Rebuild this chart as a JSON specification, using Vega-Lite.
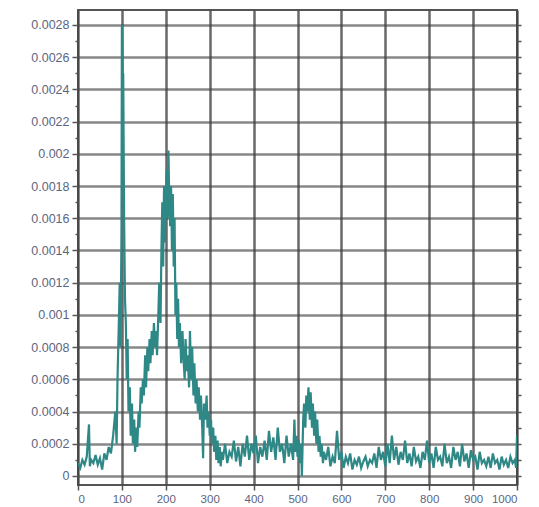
{
  "$schema": "https://vega.github.io/schema/vega-lite/v6.json",
  "autosize": "none",
  "width": 439,
  "height": 475,
  "padding": {"left": 78, "top": 10, "right": 22, "bottom": 22},
  "background": "white",
  "config": {
    "view": {"stroke": "#555555", "strokeWidth": 2},
    "axis": {
      "labelFont": "Liberation Sans",
      "labelColor": "#5c6580",
      "domain": false,
      "gridColor": "#444444",
      "gridOpacity": 0.8,
      "gridWidth": 2.5,
      "tickColor": "#555555",
      "tickWidth": 1.5,
      "title": null
    }
  },
  "data": {"values": [
    {"x":0,"y":0.00008},{"x":5,"y":0.00005},{"x":10,"y":0.0001},{"x":15,"y":0.00007},{"x":20,"y":0.00012},{"x":25,"y":0.00032},{"x":27,"y":0.00006},{"x":30,"y":0.0001},{"x":35,"y":0.00008},{"x":40,"y":0.00013},{"x":45,"y":0.00007},{"x":50,"y":0.00011},{"x":55,"y":0.00004},{"x":60,"y":0.00014},{"x":65,"y":0.0001},{"x":70,"y":0.00018},{"x":75,"y":0.00014},{"x":80,"y":0.00025},{"x":85,"y":0.0004},{"x":88,"y":0.0002},{"x":90,"y":0.0006},{"x":93,"y":0.00095},{"x":95,"y":0.0012},{"x":97,"y":0.0008},{"x":99,"y":0.0015},{"x":100,"y":0.0028},{"x":101,"y":0.0027},{"x":102,"y":0.00245},{"x":103,"y":0.0025},{"x":105,"y":0.0016},{"x":107,"y":0.0011},{"x":109,"y":0.00095},{"x":111,"y":0.0006},{"x":113,"y":0.00085},{"x":115,"y":0.0004},{"x":118,"y":0.00055},{"x":120,"y":0.00025},{"x":123,"y":0.00045},{"x":125,"y":0.0002},{"x":128,"y":0.00035},{"x":130,"y":0.00015},{"x":133,"y":0.0003},{"x":135,"y":0.00018},{"x":138,"y":0.0004},{"x":140,"y":0.0003},{"x":143,"y":0.00055},{"x":145,"y":0.00045},{"x":148,"y":0.0006},{"x":150,"y":0.0005},{"x":153,"y":0.00075},{"x":155,"y":0.00055},{"x":158,"y":0.0008},{"x":160,"y":0.00065},{"x":163,"y":0.00085},{"x":165,"y":0.0007},{"x":168,"y":0.0009},{"x":170,"y":0.00075},{"x":173,"y":0.00095},{"x":175,"y":0.0008},{"x":178,"y":0.0009},{"x":180,"y":0.00075},{"x":183,"y":0.001},{"x":185,"y":0.0012},{"x":188,"y":0.00095},{"x":190,"y":0.0014},{"x":192,"y":0.0017},{"x":194,"y":0.0013},{"x":196,"y":0.0018},{"x":198,"y":0.00145},{"x":200,"y":0.00175},{"x":202,"y":0.0019},{"x":204,"y":0.0016},{"x":206,"y":0.00202},{"x":208,"y":0.0017},{"x":210,"y":0.00155},{"x":212,"y":0.0018},{"x":214,"y":0.0014},{"x":216,"y":0.00175},{"x":218,"y":0.0013},{"x":220,"y":0.0016},{"x":222,"y":0.001},{"x":224,"y":0.0012},{"x":226,"y":0.00085},{"x":228,"y":0.0011},{"x":230,"y":0.0008},{"x":232,"y":0.00095},{"x":235,"y":0.0007},{"x":238,"y":0.0009},{"x":240,"y":0.00075},{"x":243,"y":0.0006},{"x":245,"y":0.00085},{"x":248,"y":0.00065},{"x":250,"y":0.00075},{"x":253,"y":0.00055},{"x":255,"y":0.0009},{"x":258,"y":0.0006},{"x":260,"y":0.0008},{"x":263,"y":0.0005},{"x":265,"y":0.0007},{"x":268,"y":0.00045},{"x":270,"y":0.0006},{"x":273,"y":0.0004},{"x":275,"y":0.00055},{"x":278,"y":0.00035},{"x":280,"y":0.0005},{"x":283,"y":0.0003},{"x":285,"y":0.00011},{"x":287,"y":0.00045},{"x":290,"y":0.00035},{"x":293,"y":0.0005},{"x":295,"y":0.0003},{"x":298,"y":0.0004},{"x":300,"y":0.00025},{"x":303,"y":0.00035},{"x":305,"y":0.0002},{"x":308,"y":0.0003},{"x":310,"y":0.00015},{"x":313,"y":0.00025},{"x":315,"y":0.0001},{"x":318,"y":0.00022},{"x":320,"y":0.00008},{"x":323,"y":0.00018},{"x":325,"y":0.00006},{"x":328,"y":0.00015},{"x":330,"y":0.0001},{"x":335,"y":0.0002},{"x":340,"y":0.00008},{"x":345,"y":0.00015},{"x":350,"y":0.00012},{"x":355,"y":0.00022},{"x":360,"y":0.00009},{"x":365,"y":0.00018},{"x":370,"y":0.00006},{"x":375,"y":0.0002},{"x":380,"y":0.00012},{"x":385,"y":0.00025},{"x":390,"y":0.0001},{"x":395,"y":0.0002},{"x":400,"y":0.00014},{"x":405,"y":0.00025},{"x":410,"y":0.00008},{"x":415,"y":0.00018},{"x":420,"y":0.00012},{"x":425,"y":0.00022},{"x":430,"y":0.0001},{"x":435,"y":0.00028},{"x":440,"y":0.00015},{"x":445,"y":0.00024},{"x":450,"y":0.0001},{"x":455,"y":0.0003},{"x":460,"y":0.00015},{"x":465,"y":0.0002},{"x":470,"y":0.00008},{"x":475,"y":0.00025},{"x":480,"y":0.00012},{"x":485,"y":0.0002},{"x":490,"y":0.0001},{"x":493,"y":0.00035},{"x":495,"y":0.00015},{"x":498,"y":0.00025},{"x":500,"y":0.00012},{"x":503,"y":0.00022},{"x":505,"y":0.00008},{"x":508,"y":0.0002},{"x":510,"y":0.0},{"x":513,"y":0.00035},{"x":515,"y":0.00045},{"x":518,"y":0.0003},{"x":520,"y":0.0005},{"x":522,"y":0.0004},{"x":525,"y":0.00055},{"x":528,"y":0.00035},{"x":530,"y":0.00052},{"x":533,"y":0.0003},{"x":535,"y":0.00045},{"x":538,"y":0.00025},{"x":540,"y":0.0004},{"x":543,"y":0.0002},{"x":545,"y":0.00035},{"x":548,"y":0.00015},{"x":550,"y":0.00025},{"x":553,"y":0.00012},{"x":555,"y":0.0002},{"x":558,"y":0.00008},{"x":560,"y":0.00015},{"x":565,"y":0.0001},{"x":570,"y":0.00018},{"x":575,"y":0.00006},{"x":580,"y":0.00012},{"x":585,"y":0.00008},{"x":590,"y":0.00028},{"x":595,"y":0.0001},{"x":600,"y":0.00015},{"x":605,"y":0.00005},{"x":610,"y":0.00012},{"x":615,"y":0.00008},{"x":620,"y":0.00014},{"x":625,"y":0.00004},{"x":630,"y":0.0001},{"x":635,"y":0.00007},{"x":640,"y":0.00012},{"x":645,"y":0.00005},{"x":650,"y":0.00009},{"x":655,"y":0.00012},{"x":660,"y":0.00006},{"x":665,"y":0.0001},{"x":670,"y":0.00008},{"x":675,"y":0.00014},{"x":680,"y":0.00005},{"x":685,"y":0.00018},{"x":690,"y":0.0001},{"x":695,"y":0.00015},{"x":700,"y":0.00006},{"x":705,"y":0.0002},{"x":710,"y":0.00008},{"x":715,"y":0.00025},{"x":720,"y":0.0001},{"x":725,"y":0.00018},{"x":730,"y":0.00007},{"x":735,"y":0.00015},{"x":740,"y":0.0001},{"x":745,"y":0.00022},{"x":750,"y":0.00008},{"x":755,"y":0.00014},{"x":760,"y":0.00006},{"x":765,"y":0.00018},{"x":770,"y":0.00009},{"x":775,"y":0.00012},{"x":780,"y":0.00005},{"x":785,"y":0.00015},{"x":790,"y":0.0001},{"x":795,"y":0.00022},{"x":800,"y":0.00008},{"x":805,"y":0.00014},{"x":810,"y":0.00005},{"x":815,"y":0.00018},{"x":820,"y":0.0001},{"x":825,"y":0.00012},{"x":830,"y":0.00006},{"x":835,"y":0.0002},{"x":840,"y":0.00008},{"x":845,"y":0.00012},{"x":850,"y":0.00005},{"x":855,"y":0.00018},{"x":860,"y":0.0001},{"x":865,"y":0.00015},{"x":870,"y":0.00006},{"x":875,"y":0.0002},{"x":880,"y":0.00009},{"x":885,"y":0.00014},{"x":890,"y":0.00005},{"x":895,"y":0.00016},{"x":900,"y":0.0001},{"x":905,"y":0.00012},{"x":910,"y":0.00004},{"x":915,"y":0.00015},{"x":920,"y":0.00008},{"x":925,"y":0.0001},{"x":930,"y":0.00006},{"x":935,"y":0.00012},{"x":940,"y":0.00005},{"x":945,"y":0.00014},{"x":950,"y":0.00008},{"x":955,"y":0.0001},{"x":960,"y":0.00004},{"x":965,"y":0.00012},{"x":970,"y":0.00007},{"x":975,"y":0.0001},{"x":980,"y":0.00005},{"x":985,"y":0.00012},{"x":990,"y":0.00008},{"x":995,"y":0.0001},{"x":998,"y":0.00005},{"x":1000,"y":0.00025}
  ]},
  "layer": [
    {
      "mark": {"type": "line", "color": "#2e8886", "strokeWidth": 2.2, "clip": true},
      "encoding": {
        "x": {
          "field": "x", "type": "quantitative",
          "scale": {"domain": [0, 1000], "nice": false, "zero": false},
          "axis": {
            "values": [0,100,200,300,400,500,600,700,800,900,1000],
            "format": "d",
            "labelFontSize": 11.5,
            "tickSize": 5,
            "labelPadding": 3
          }
        },
        "y": {
          "field": "y", "type": "quantitative",
          "scale": {"domain": [-0.000056, 0.002893], "nice": false, "zero": false},
          "axis": {
            "values": [0,0.0001,0.0002,0.0003,0.0004,0.0005,0.0006,0.0007,0.0008,0.0009,0.001,0.0011,0.0012,0.0013,0.0014,0.0015,0.0016,0.0017,0.0018,0.0019,0.002,0.0021,0.0022,0.0023,0.0024,0.0025,0.0026,0.0027,0.0028],
            "format": "~g",
            "labelExpr": "round(datum.value*10000) % 2 == 1 ? '' : datum.label",
            "labelFontSize": 12.5,
            "labelPadding": 3,
            "tickSize": {"condition": {"test": "round(datum.value*10000) % 2 == 1", "value": 3}, "value": 6},
            "gridOpacity": {"condition": {"test": "round(datum.value*10000) % 2 == 1", "value": 0}, "value": 0.8}
          }
        }
      }
    },
    {
      "mark": {"type": "line", "opacity": 0, "clip": true},
      "encoding": {
        "x": {"field": "x", "type": "quantitative"},
        "y": {
          "field": "y", "type": "quantitative",
          "scale": {"domain": [-0.000056, 0.002893], "nice": false, "zero": false},
          "axis": {
            "orient": "right",
            "values": [0,0.0001,0.0002,0.0003,0.0004,0.0005,0.0006,0.0007,0.0008,0.0009,0.001,0.0011,0.0012,0.0013,0.0014,0.0015,0.0016,0.0017,0.0018,0.0019,0.002,0.0021,0.0022,0.0023,0.0024,0.0025,0.0026,0.0027,0.0028],
            "labels": false,
            "grid": false,
            "tickSize": 4
          }
        }
      }
    }
  ],
  "resolve": {"axis": {"y": "independent"}}
}
